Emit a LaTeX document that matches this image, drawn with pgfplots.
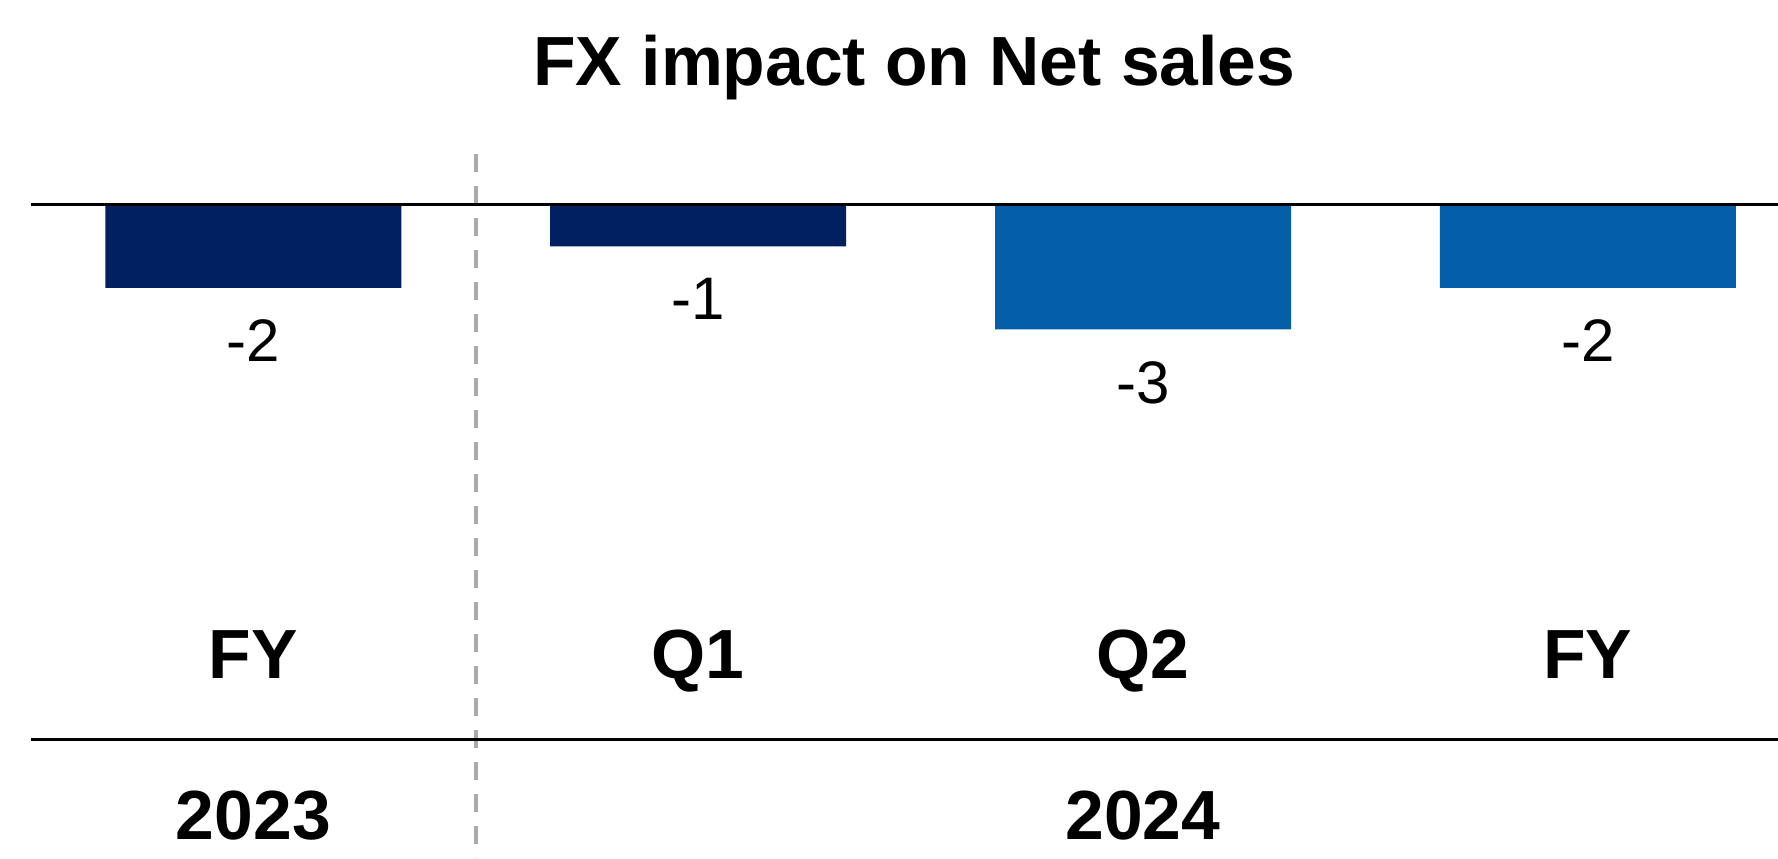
\documentclass[border=0pt]{standalone}
\usepackage{fontspec}
\setmainfont{Liberation Sans}
\usepackage{pgfplots}
\pgfplotsset{compat=1.18}
\definecolor{navy}{RGB}{0,32,96}
\definecolor{midblue}{RGB}{5,95,168}
\definecolor{sepgray}{RGB}{170,170,170}
\newcommand{\bigbold}{\fontsize{17.4pt}{20pt}\selectfont\bfseries}
\begin{document}
\begin{tikzpicture}
% page = 1778 x 858 px at 0.25pt per px
\path[use as bounding box] (0,0) rectangle (444.5pt,214.5pt);
\node[anchor=base, font=\bigbold] at (228.6pt,193pt) {FX impact on Net sales};
\begin{axis}[
  at={(7.75pt,0pt)}, anchor=south west,
  x=111.2pt, y=10.375pt,
  xmin=-0.5, xmax=3.44, ymin=-15.735, ymax=1.229,
  hide axis, clip=false,
  ybar, bar width=74pt, bar shift=0pt,
  point meta=explicit symbolic,
  nodes near coords,
  every node near coord/.append style={anchor=north, inner sep=0pt,
    yshift=-7.8pt, font=\fontsize{15pt}{18pt}\selectfont, text=black},
]
% separator between 2023 and 2024
\draw[sepgray, line width=1.1pt, dash pattern=on 4.5pt off 3.5pt]
  (axis cs:0.5,1.229) -- (axis cs:0.5,-15.735);

\addplot[fill=navy, draw=none] coordinates {(0,-2) [-2] (1,-1) [-1]};
\addplot[fill=midblue, draw=none] coordinates {(2,-3) [-3] (3,-2) [-2]};

\draw[black, line width=0.75pt] (axis cs:-0.5,0) -- (axis cs:3.44,0);
\draw[black, line width=0.75pt] (axis cs:-0.5,-12.89) -- (axis cs:3.44,-12.89);

\node[anchor=base, font=\bigbold] at (axis cs:0,-11.40) {FY};
\node[anchor=base, font=\bigbold] at (axis cs:1,-11.40) {Q1};
\node[anchor=base, font=\bigbold] at (axis cs:2,-11.40) {Q2};
\node[anchor=base, font=\bigbold] at (axis cs:3,-11.40) {FY};

\node[anchor=base, font=\bigbold] at (axis cs:0,-15.28) {2023};
\node[anchor=base, font=\bigbold] at (axis cs:2,-15.28) {2024};
\end{axis}
\end{tikzpicture}
\end{document}
